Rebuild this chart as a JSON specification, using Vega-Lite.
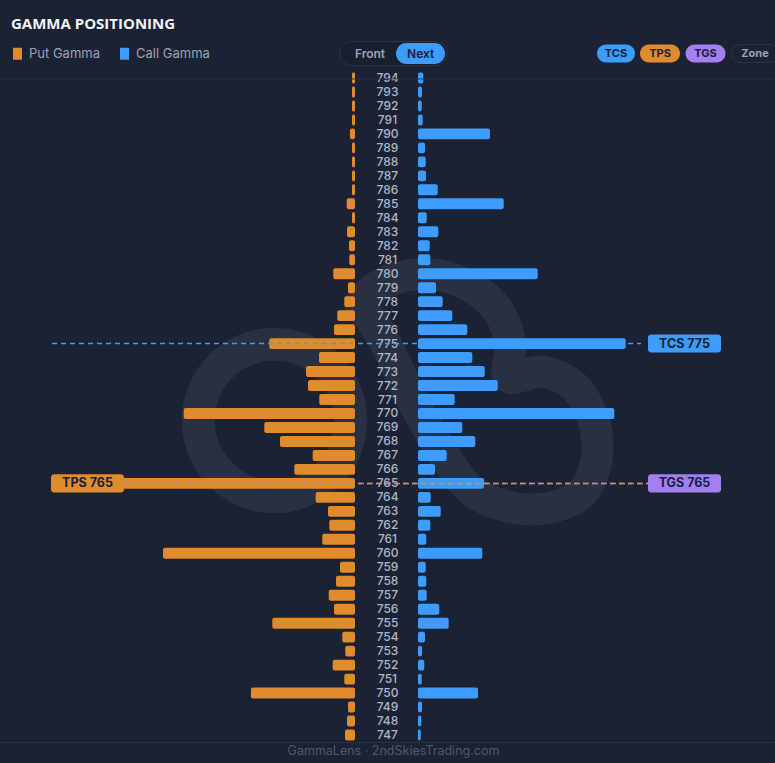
{
  "$schema": "https://vega.github.io/schema/vega-lite/v6.json",
  "description": "Gamma positioning: put and call gamma by strike, butterfly layout.",
  "background": "#1b2233",
  "autosize": {"type": "none"},
  "width": 775,
  "height": 671,
  "padding": {"top": 71, "left": 0, "right": 0, "bottom": 21},
  "data": {"values": [
    {"strike": 794, "put": -0.03, "call": 0.053},
    {"strike": 793, "put": -0.03, "call": 0.04},
    {"strike": 792, "put": -0.03, "call": 0.037},
    {"strike": 791, "put": -0.03, "call": 0.047},
    {"strike": 790, "put": -0.05, "call": 0.72},
    {"strike": 789, "put": -0.03, "call": 0.07},
    {"strike": 788, "put": -0.03, "call": 0.077},
    {"strike": 787, "put": -0.03, "call": 0.08},
    {"strike": 786, "put": -0.03, "call": 0.197},
    {"strike": 785, "put": -0.083, "call": 0.857},
    {"strike": 784, "put": -0.03, "call": 0.087},
    {"strike": 783, "put": -0.08, "call": 0.203},
    {"strike": 782, "put": -0.06, "call": 0.117},
    {"strike": 781, "put": -0.057, "call": 0.123},
    {"strike": 780, "put": -0.217, "call": 1.197},
    {"strike": 779, "put": -0.07, "call": 0.18},
    {"strike": 778, "put": -0.107, "call": 0.247},
    {"strike": 777, "put": -0.177, "call": 0.343},
    {"strike": 776, "put": -0.21, "call": 0.493},
    {"strike": 775, "put": -0.857, "call": 2.077},
    {"strike": 774, "put": -0.36, "call": 0.543},
    {"strike": 773, "put": -0.49, "call": 0.667},
    {"strike": 772, "put": -0.47, "call": 0.797},
    {"strike": 771, "put": -0.357, "call": 0.367},
    {"strike": 770, "put": -1.713, "call": 1.963},
    {"strike": 769, "put": -0.907, "call": 0.443},
    {"strike": 768, "put": -0.75, "call": 0.573},
    {"strike": 767, "put": -0.423, "call": 0.287},
    {"strike": 766, "put": -0.607, "call": 0.17},
    {"strike": 765, "put": -3.03, "call": 0.66},
    {"strike": 764, "put": -0.393, "call": 0.127},
    {"strike": 763, "put": -0.27, "call": 0.227},
    {"strike": 762, "put": -0.257, "call": 0.123},
    {"strike": 761, "put": -0.327, "call": 0.083},
    {"strike": 760, "put": -1.92, "call": 0.643},
    {"strike": 759, "put": -0.15, "call": 0.077},
    {"strike": 758, "put": -0.19, "call": 0.083},
    {"strike": 757, "put": -0.263, "call": 0.087},
    {"strike": 756, "put": -0.21, "call": 0.213},
    {"strike": 755, "put": -0.827, "call": 0.307},
    {"strike": 754, "put": -0.127, "call": 0.07},
    {"strike": 753, "put": -0.097, "call": 0.04},
    {"strike": 752, "put": -0.223, "call": 0.063},
    {"strike": 751, "put": -0.107, "call": 0.037},
    {"strike": 750, "put": -1.04, "call": 0.6},
    {"strike": 749, "put": -0.07, "call": 0.04},
    {"strike": 748, "put": -0.08, "call": 0.033},
    {"strike": 747, "put": -0.1, "call": 0.027}
  ]},
  "resolve": {
    "scale": {"x": "independent", "y": "independent"},
    "axis": {"x": "independent", "y": "independent"}
  },
  "layer": [
    {
      "layer": [
        {
          "data": {"values": [{"part": "ring"}]},
          "mark": {"type": "point", "shape": "circle", "filled": false, "size": 23235, "strokeWidth": 33, "stroke": "#283042", "opacity": 1, "clip": true},
          "encoding": {
            "x": {"datum": -1.12, "scale": {"domain": [-3.865, 3.885], "nice": false, "zero": false}},
            "y": {"datum": 769.5, "scale": {"domain": [746.5, 794.5], "nice": false, "zero": false}, "axis": null}
          }
        },
        {
          "data": {"values": [
            {"i": 1, "gx": -0.265, "gy": 777.9},
            {"i": 2, "gx": -0.065, "gy": 779.2},
            {"i": 3, "gx": 0.385, "gy": 780.0},
            {"i": 4, "gx": 0.835, "gy": 779.1},
            {"i": 5, "gx": 1.12, "gy": 777.3},
            {"i": 6, "gx": 1.24, "gy": 774.9},
            {"i": 7, "gx": 1.22, "gy": 772.6},
            {"i": 8, "gx": 1.56, "gy": 773.0},
            {"i": 9, "gx": 1.88, "gy": 771.9},
            {"i": 10, "gx": 2.07, "gy": 769.5},
            {"i": 11, "gx": 2.1, "gy": 766.7},
            {"i": 12, "gx": 1.95, "gy": 764.3},
            {"i": 13, "gx": 1.58, "gy": 763.2},
            {"i": 14, "gx": 1.18, "gy": 763.4},
            {"i": 15, "gx": 0.835, "gy": 764.6},
            {"i": 16, "gx": 0.535, "gy": 767.5},
            {"i": 17, "gx": 0.235, "gy": 771.3},
            {"i": 18, "gx": -0.015, "gy": 775.1},
            {"i": 19, "gx": -0.265, "gy": 777.9}
          ]},
          "mark": {"type": "line", "interpolate": "catmull-rom", "strokeWidth": 32, "stroke": "#283042", "strokeCap": "round", "strokeJoin": "round", "clip": true},
          "encoding": {
            "x": {"field": "gx", "type": "quantitative", "title": "GammaLens · 2ndSkiesTrading.com"},
            "y": {"field": "gy", "type": "quantitative", "axis": null},
            "order": {"field": "i", "type": "quantitative"}
          }
        }
      ]
    },
    {
      "mark": {"type": "bar", "cornerRadius": 2},
      "encoding": {
        "x": {"field": "put", "type": "quantitative", "stack": null, "axis": null, "scale": {"domain": [-3.55, 0], "range": [0, 355], "nice": false}},
        "y": {"field": "strike", "type": "ordinal", "sort": "descending", "axis": null, "scale": {"paddingInner": 0.22, "paddingOuter": 0.11}},
        "color": {
          "datum": "Put Gamma",
          "scale": {"domain": ["Put Gamma", "Call Gamma"], "range": ["#df8b2e", "#3d9cfe"]},
          "legend": {
            "title": null,
            "orient": "none",
            "legendX": 11,
            "legendY": -24,
            "direction": "horizontal",
            "symbolType": "M-1,-1.33H1V1.33H-1Z",
            "symbolSize": 81,
            "symbolStrokeWidth": 0,
            "labelColor": "#9aa3b5",
            "labelFontSize": 13,
            "labelFont": "Inter",
            "labelOffset": 5,
            "columnPadding": 18,
            "padding": 0
          }
        }
      }
    },
    {
      "mark": {"type": "bar", "cornerRadius": 2},
      "encoding": {
        "x": {"field": "call", "type": "quantitative", "stack": null, "axis": null, "scale": {"domain": [0, 3.57], "range": [418, 775], "nice": false}},
        "y": {"field": "strike", "type": "ordinal", "sort": "descending", "axis": null, "scale": {"paddingInner": 0.22, "paddingOuter": 0.11}},
        "color": {"datum": "Call Gamma"}
      }
    },
    {
      "mark": {"type": "text", "align": "center", "baseline": "middle", "fontSize": 12, "fontWeight": 500, "fill": "#b0b8c8", "clip": true},
      "encoding": {
        "y": {"field": "strike", "type": "ordinal", "sort": "descending", "axis": null, "scale": {"paddingInner": 0.22, "paddingOuter": 0.11}},
        "text": {"field": "strike", "type": "nominal"}
      }
    },
    {
      "data": {"values": [{"ui": "overlay"}]},
      "layer": [
        {
          "mark": {"type": "point", "shape": "M-1,0H1", "filled": false, "size": 346921, "stroke": "#3d9cfe", "strokeWidth": 1.5, "strokeDash": [5, 4], "opacity": 1},
          "encoding": {
            "x": {"datum": -0.4, "axis": null, "scale": {"domain": [-3.865, 3.885], "nice": false, "zero": false}},
            "y": {"datum": 775, "axis": null, "scale": {"domain": [746.5, 794.5], "nice": false, "zero": false}}
          }
        },
        {
          "mark": {"type": "point", "shape": "M-1,0H1", "filled": false, "size": 274576, "stroke": "#df8b2e", "strokeWidth": 1.5, "strokeDash": [6, 3], "opacity": 1},
          "encoding": {"x": {"datum": -0.005}, "y": {"datum": 765}}
        },
        {
          "mark": {"type": "point", "shape": "M-1,0H1", "filled": false, "size": 274576, "stroke": "#b08ad8", "strokeWidth": 1.5, "strokeDash": [4, 5], "opacity": 1},
          "encoding": {"x": {"datum": -0.005}, "y": {"datum": 765}}
        },
        {
          "data": {"values": [
            {"kind": "TCS", "strike": 775, "label": "TCS 775"},
            {"kind": "TGS", "strike": 765, "label": "TGS 765"}
          ]},
          "layer": [
            {
              "mark": {"type": "point", "shape": "M-0.918,-0.247H0.918A0.082,0.082,0,0,1,1,-0.165V0.165A0.082,0.082,0,0,1,0.918,0.247H-0.918A0.082,0.082,0,0,1,-1,0.165V-0.165A0.082,0.082,0,0,1,-0.918,-0.247Z", "filled": true, "size": 5329, "strokeWidth": 0, "opacity": 1},
              "encoding": {
                "x": {"datum": 2.98},
                "y": {"field": "strike", "type": "quantitative"},
                "fill": {"field": "kind", "type": "nominal", "legend": null, "scale": {"domain": ["TCS", "TPS", "TGS", "Zone"], "range": ["#3d9cfe", "#df8b2e", "#a47ff0", "#1b2233"]}}
              }
            },
            {
              "mark": {"type": "text", "align": "center", "baseline": "middle", "fontSize": 12.5, "fontWeight": "bold", "fill": "#15203a"},
              "encoding": {"x": {"datum": 2.98}, "y": {"field": "strike", "type": "quantitative"}, "text": {"field": "label", "type": "nominal"}}
            }
          ]
        },
        {
          "data": {"values": [
            {"kind": "TPS", "strike": 765, "label": "TPS 765"}
          ]},
          "layer": [
            {
              "mark": {"type": "point", "shape": "M-0.918,-0.247H0.918A0.082,0.082,0,0,1,1,-0.165V0.165A0.082,0.082,0,0,1,0.918,0.247H-0.918A0.082,0.082,0,0,1,-1,0.165V-0.165A0.082,0.082,0,0,1,-0.918,-0.247Z", "filled": true, "size": 5329, "strokeWidth": 0, "opacity": 1},
              "encoding": {
                "x": {"datum": -2.99},
                "y": {"field": "strike", "type": "quantitative"},
                "fill": {"field": "kind", "type": "nominal", "legend": null}
              }
            },
            {
              "mark": {"type": "text", "align": "center", "baseline": "middle", "fontSize": 12.5, "fontWeight": "bold", "fill": "#15203a"},
              "encoding": {"x": {"datum": -2.99}, "y": {"field": "strike", "type": "quantitative"}, "text": {"field": "label", "type": "nominal"}}
            }
          ]
        },
        {
          "mark": {"type": "point", "shape": "M-1,0H1", "filled": false, "size": 600625, "stroke": "#283145", "strokeWidth": 1, "opacity": 1},
          "encoding": {"x": {"datum": 0.01}, "y": {"datum": 793.93}}
        },
        {
          "mark": {"type": "text", "align": "left", "baseline": "middle", "font": "Open Sans", "fontSize": 15, "fontWeight": "bold", "fill": "#f2f4f8"},
          "encoding": {"x": {"datum": -3.755}, "y": {"datum": 797.86}, "text": {"value": "GAMMA POSITIONING"}}
        },
        {
          "mark": {"type": "point", "shape": "M-0.776,-0.224H0.776A0.224,0.224,0,0,1,0.776,0.224H-0.776A0.224,0.224,0,0,1,-0.776,-0.224Z", "filled": true, "size": 11449, "fill": "#182030", "stroke": "#2c3548", "strokeWidth": 1, "opacity": 1},
          "encoding": {"x": {"datum": 0.07}, "y": {"datum": 795.75}}
        },
        {
          "mark": {"type": "point", "shape": "M-0.571,-0.429H0.571A0.429,0.429,0,0,1,0.571,0.429H-0.571A0.429,0.429,0,0,1,-0.571,-0.429Z", "filled": true, "size": 2401, "fill": "#3d9cfe", "strokeWidth": 0, "opacity": 1},
          "encoding": {"x": {"datum": 0.34}, "y": {"datum": 795.75}}
        },
        {
          "mark": {"type": "text", "align": "center", "baseline": "middle", "fontSize": 12, "fontWeight": 600, "fill": "#9aa3b5"},
          "encoding": {"x": {"datum": -0.165}, "y": {"datum": 795.75}, "text": {"value": "Front"}}
        },
        {
          "mark": {"type": "text", "align": "center", "baseline": "middle", "fontSize": 12, "fontWeight": 600, "fill": "#15203a"},
          "encoding": {"x": {"datum": 0.342}, "y": {"datum": 795.75}, "text": {"value": "Next"}}
        },
        {
          "data": {"values": [{"badge": "TCS"}]},
          "layer": [
            {
              "mark": {"type": "point", "shape": "M-0.526,-0.474H0.526A0.474,0.474,0,0,1,0.526,0.474H-0.526A0.474,0.474,0,0,1,-0.526,-0.474Z", "filled": true, "size": 1444, "strokeWidth": 0, "opacity": 1},
              "encoding": {"x": {"datum": 2.295}, "y": {"datum": 795.75}, "fill": {"field": "badge", "type": "nominal", "legend": null}}
            },
            {
              "mark": {"type": "text", "align": "center", "baseline": "middle", "fontSize": 11, "fontWeight": "bold", "fill": "#15203a"},
              "encoding": {"x": {"datum": 2.295}, "y": {"datum": 795.75}, "text": {"field": "badge", "type": "nominal"}}
            }
          ]
        },
        {
          "data": {"values": [{"badge": "TPS"}]},
          "layer": [
            {
              "mark": {"type": "point", "shape": "M-0.55,-0.45H0.55A0.45,0.45,0,0,1,0.55,0.45H-0.55A0.45,0.45,0,0,1,-0.55,-0.45Z", "filled": true, "size": 1600, "strokeWidth": 0, "opacity": 1},
              "encoding": {"x": {"datum": 2.735}, "y": {"datum": 795.75}, "fill": {"field": "badge", "type": "nominal", "legend": null}}
            },
            {
              "mark": {"type": "text", "align": "center", "baseline": "middle", "fontSize": 11, "fontWeight": "bold", "fill": "#15203a"},
              "encoding": {"x": {"datum": 2.735}, "y": {"datum": 795.75}, "text": {"field": "badge", "type": "nominal"}}
            }
          ]
        },
        {
          "data": {"values": [{"badge": "TGS"}]},
          "layer": [
            {
              "mark": {"type": "point", "shape": "M-0.55,-0.45H0.55A0.45,0.45,0,0,1,0.55,0.45H-0.55A0.45,0.45,0,0,1,-0.55,-0.45Z", "filled": true, "size": 1600, "strokeWidth": 0, "opacity": 1},
              "encoding": {"x": {"datum": 3.19}, "y": {"datum": 795.75}, "fill": {"field": "badge", "type": "nominal", "legend": null}}
            },
            {
              "mark": {"type": "text", "align": "center", "baseline": "middle", "fontSize": 11, "fontWeight": "bold", "fill": "#15203a"},
              "encoding": {"x": {"datum": 3.19}, "y": {"datum": 795.75}, "text": {"field": "badge", "type": "nominal"}}
            }
          ]
        },
        {
          "data": {"values": [{"badge": "Zone"}]},
          "layer": [
            {
              "mark": {"type": "point", "shape": "M-0.625,-0.375H0.625A0.375,0.375,0,0,1,0.625,0.375H-0.625A0.375,0.375,0,0,1,-0.625,-0.375Z", "filled": true, "size": 2304, "stroke": "#2c3548", "strokeWidth": 1, "opacity": 1},
              "encoding": {"x": {"datum": 3.69}, "y": {"datum": 795.75}, "fill": {"field": "badge", "type": "nominal", "legend": null}}
            },
            {
              "mark": {"type": "text", "align": "center", "baseline": "middle", "fontSize": 11, "fontWeight": "bold", "fill": "#9aa3b5"},
              "encoding": {"x": {"datum": 3.685}, "y": {"datum": 795.75}, "text": {"field": "badge", "type": "nominal"}}
            }
          ]
        }
      ]
    }
  ],
  "config": {
    "font": "Inter",
    "view": {"stroke": null},
    "axis": {"grid": false},
    "axisX": {
      "domainColor": "#283145",
      "domainWidth": 1,
      "ticks": false,
      "labels": false,
      "titleColor": "#4f5a6e",
      "titleFont": "Inter",
      "titleFontSize": 12.5,
      "titleFontWeight": "normal",
      "titlePadding": 2,
      "titleX": 393
    }
  }
}
